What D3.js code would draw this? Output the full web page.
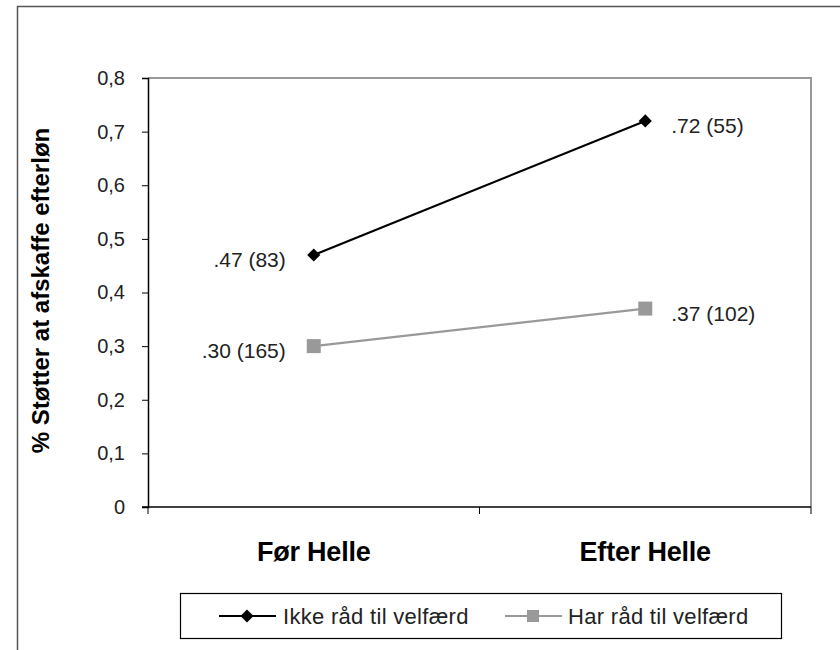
<!DOCTYPE html>
<html><head><meta charset="utf-8">
<script src="https://cdn.jsdelivr.net/npm/d3@7"></script>
<style>body{margin:0;background:#fff}</style>
</head><body>
<svg id="c" width="840" height="650"></svg>
<script>
const categories = ["Før Helle", "Efter Helle"];
const seriesNames = ["Ikke råd til velfærd", "Har råd til velfærd"];
const ikkeValues = [0.47, 0.72];
const harValues = [0.30, 0.37];
const ikkeLabels = [".47 (83)", ".72 (55)"];
const harLabels = [".30 (165)", ".37 (102)"];
const yTicks = [0, 0.1, 0.2, 0.3, 0.4, 0.5, 0.6, 0.7, 0.8];

const svg = d3.select("#c");
const font = "Liberation Sans, Arial, sans-serif";
const L = 148, R = 811, T = 78, B = 507;

// outer frame
svg.append("rect").attr("x", 17.5).attr("y", 6.5).attr("width", 840).attr("height", 700)
  .attr("fill", "none").attr("stroke", "#555").attr("stroke-width", 1.5);

const x = d3.scaleBand().domain(categories).range([L, R]).padding(0);
const y = d3.scaleLinear().domain([0, 0.8]).range([B, T]);

// plot area border (top & right, gray)
svg.append("path").attr("d", `M${L},${T}H${R}V${B}`).attr("fill", "none")
  .attr("stroke", "#999").attr("stroke-width", 2);

// y axis
const yAxis = d3.axisLeft(y).tickValues(yTicks).tickSize(6).tickPadding(17)
  .tickFormat(d => d === 0 ? "0" : d3.format(".1f")(d).replace(".", ","));
const gy = svg.append("g").attr("transform", `translate(${L},0)`).call(yAxis);
gy.select(".domain").attr("stroke", "#000").attr("stroke-width", 1.5);
gy.selectAll(".tick line").attr("stroke", "#000");
gy.selectAll("text").attr("font-family", font).attr("font-size", 20).attr("fill", "#222");

// x axis
const gx = svg.append("g").attr("transform", `translate(0,${B})`);
gx.append("line").attr("x1", L - 6).attr("x2", R).attr("stroke", "#000").attr("stroke-width", 1.5);
const bounds = [L, x(categories[1]), R];
gx.selectAll(".xt").data(bounds).join("line").attr("x1", d => d).attr("x2", d => d)
  .attr("y1", 0).attr("y2", 7).attr("stroke", "#000");
gx.selectAll(".cl").data(categories).join("text")
  .attr("x", d => x(d) + x.bandwidth() / 2).attr("y", 54)
  .attr("text-anchor", "middle").attr("font-family", font).attr("font-weight", "bold")
  .attr("font-size", 27).attr("letter-spacing", -0.2).text(d => d);

// y title
svg.append("text").attr("transform", `translate(49,${(T + B) / 2 - 2}) rotate(-90)`)
  .attr("text-anchor", "middle").attr("font-family", font).attr("font-weight", "bold")
  .attr("font-size", 24).text("% Støtter at afskaffe efterløn");

const cx = d => x(d) + x.bandwidth() / 2;
const line = d3.line().x(d => cx(d.c)).y(d => y(d.v));
const s1 = categories.map((c, i) => ({c, v: ikkeValues[i], l: ikkeLabels[i]}));
const s2 = categories.map((c, i) => ({c, v: harValues[i], l: harLabels[i]}));

svg.append("path").datum(s2).attr("d", line).attr("fill", "none").attr("stroke", "#999").attr("stroke-width", 2.2);
svg.selectAll(".sq").data(s2).join("rect")
  .attr("x", d => cx(d.c) - 7).attr("y", d => y(d.v) - 7).attr("width", 14).attr("height", 14).attr("fill", "#999");

svg.append("path").datum(s1).attr("d", line).attr("fill", "none").attr("stroke", "#000").attr("stroke-width", 2.2);
const diamond = d3.symbol().type(d3.symbolDiamond2).size(110);
svg.selectAll(".dm").data(s1).join("path")
  .attr("d", diamond).attr("transform", d => `translate(${cx(d.c)},${y(d.v)})`).attr("fill", "#000");

// data labels
const allLab = s1.concat(s2);
svg.selectAll(".dl").data(allLab).join("text")
  .attr("x", d => d.c === categories[0] ? cx(d.c) - 28 : cx(d.c) + 26)
  .attr("y", d => y(d.v) + 12)
  .attr("text-anchor", d => d.c === categories[0] ? "end" : "start")
  .attr("font-family", font).attr("font-size", 21).attr("fill", "#222").text(d => d.l);

// legend
svg.append("rect").attr("x", 180.5).attr("y", 593.5).attr("width", 601).attr("height", 45)
  .attr("fill", "#fff").attr("stroke", "#000").attr("stroke-width", 1.2);
const ly = 616;
svg.append("line").attr("x1", 219).attr("x2", 276).attr("y1", ly).attr("y2", ly).attr("stroke", "#000").attr("stroke-width", 2.2);
svg.append("path").attr("d", diamond).attr("transform", `translate(247,${ly})`).attr("fill", "#000");
svg.append("text").attr("x", 283).attr("y", ly + 8).attr("font-family", font).attr("font-size", 22).attr("letter-spacing", 0.3).attr("fill", "#222").text(seriesNames[0]);
svg.append("line").attr("x1", 505).attr("x2", 562).attr("y1", ly).attr("y2", ly).attr("stroke", "#999").attr("stroke-width", 2.2);
svg.append("rect").attr("x", 527).attr("y", ly - 6).attr("width", 12).attr("height", 12).attr("fill", "#999");
svg.append("text").attr("x", 568).attr("y", ly + 8).attr("font-family", font).attr("font-size", 22).attr("letter-spacing", 0.3).attr("fill", "#222").text(seriesNames[1]);
</script>
</body></html>
